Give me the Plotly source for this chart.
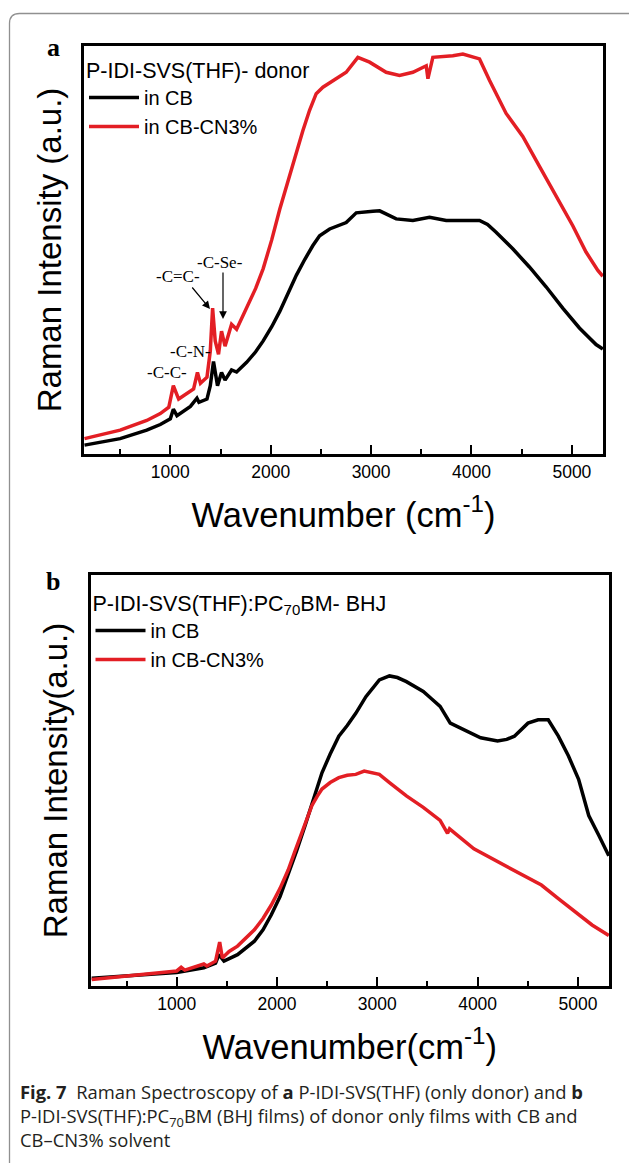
import plotly.graph_objects as go

W, H = 629, 1163

# ---------------- data ----------------
# Panel a: P-IDI-SVS(THF) donor
a_cb_x = [145, 300, 500, 765, 900, 1000, 1030, 1066, 1200, 1265, 1285, 1365, 1398, 1430, 1470,
          1510, 1545, 1610, 1660, 1760, 1850, 1925, 2010, 2090, 2170, 2256, 2340, 2420, 2487,
          2587, 2752, 2852, 3018, 3085, 3250, 3416, 3582, 3748, 4080, 4160, 4245, 4411, 4577,
          4743, 4909, 5075, 5241, 5308]
a_cb_y = [2.2, 2.9, 3.8, 5.9, 7.3, 8.7, 11.1, 9.5, 11.8, 13.8, 12.8, 13.6, 16.9, 22.9, 16.9,
          20.2, 18.3, 20.8, 20.3, 22.7, 25.3, 28.0, 31.5, 35.3, 39.8, 44.3, 48.2, 51.6, 54.0,
          55.7, 57.3, 59.7, 60.1, 60.2, 58.2, 57.8, 58.6, 57.8, 57.8, 56.8, 54.9, 50.8, 46.3,
          41.4, 36.1, 31.2, 27.1, 26.0]

a_cn_x = [145, 300, 500, 765, 900, 985, 1030, 1083, 1232, 1270, 1300, 1365, 1398, 1421, 1447,
          1480, 1510, 1545, 1610, 1660, 1760, 1850, 1925, 2010, 2090, 2170, 2256, 2320, 2387,
          2453, 2520, 2620, 2752, 2868, 2985, 3150, 3283, 3416, 3549, 3566, 3615, 3814, 3914,
          4080, 4179, 4345, 4511, 4677, 4843, 5009, 5141, 5257, 5308]
a_cn_y = [3.8, 4.7, 5.9, 8.3, 10.0, 11.6, 16.9, 13.6, 16.1, 20.2, 17.5, 19.0, 25.5, 36.1, 28.0,
          24.7, 30.4, 26.7, 32.1, 30.9, 36.1, 41.0, 45.9, 53.0, 60.6, 67.5, 74.5, 80.0, 85.1,
          89.2, 90.8, 92.5, 94.5, 98.2, 97.0, 94.5, 93.7, 94.5, 96.1, 92.9, 98.2, 98.6, 99.0,
          97.8, 92.5, 84.3, 78.6, 71.2, 63.9, 56.5, 50.0, 45.5, 44.0]

# Panel b: P-IDI-SVS(THF):PC70BM BHJ
b_cb_x = [152, 495, 1000, 1270, 1387, 1421, 1471, 1606, 1774, 1860, 1943, 2030, 2111, 2195,
          2279, 2365, 2448, 2530, 2616, 2700, 2785, 2886, 3020, 3121, 3200, 3290, 3380, 3458,
          3540, 3626, 3727, 3862, 4030, 4199, 4290, 4367, 4440, 4502, 4603, 4704, 4805, 4906,
          5007, 5108, 5209, 5308]
b_cb_y = [1.9, 2.4, 3.3, 4.5, 5.6, 7.7, 6.1, 7.7, 11.0, 13.8, 17.5, 22.0, 27.2, 33.2,
          39.4, 46.2, 52.4, 57.0, 61.4, 64.0, 67.0, 71.1, 75.2, 76.2, 75.8, 74.8, 73.6, 72.4,
          70.6, 68.7, 64.6, 63.0, 61.0, 60.2, 60.6, 61.4, 63.0, 64.6, 65.4, 65.4, 61.4, 56.5,
          50.8, 41.9, 37.0, 32.0]

b_cn_x = [152, 495, 1000, 1044, 1080, 1270, 1300, 1387, 1428, 1455, 1522, 1606, 1774, 1860,
          1943, 2030, 2111, 2180, 2246, 2300, 2347, 2400, 2448, 2530, 2616, 2700, 2785, 2869,
          3020, 3121, 3290, 3458, 3626, 3700, 3720, 3963, 4300, 4468, 4636, 4805, 4973, 5141,
          5308]
b_cn_y = [1.6, 2.4, 3.7, 4.6, 3.9, 5.4, 4.9, 6.1, 10.8, 6.9, 8.5, 9.8, 13.8, 16.6,
          19.9, 24.0, 28.5, 33.2, 37.8, 41.4, 44.3, 46.6, 48.4, 50.0, 51.2, 51.8, 52.0, 52.8,
          52.0, 50.0, 46.7, 43.9, 40.7, 37.5, 38.6, 33.7, 29.3, 27.2, 24.8, 21.5, 18.3, 15.0,
          12.4]

series_names = ["in CB", "in CB-CN3%"]
series_colors = ["#000000", "#e31e24"]
x_range = [140, 5310]
y_range = [0, 101]

# ---------------- helpers: pixel -> paper ----------------
def px(x):
    return x / W

def py(y):
    return 1 - y / H

fig = go.Figure()

panels = [
    dict(xs=[a_cb_x, a_cn_x], ys=[a_cb_y, a_cn_y], xa="x", ya="y", leg="legend"),
    dict(xs=[b_cb_x, b_cn_x], ys=[b_cb_y, b_cn_y], xa="x2", ya="y2", leg="legend2"),
]
for p in panels:
    for i in range(2):
        fig.add_trace(go.Scatter(
            x=p["xs"][i], y=p["ys"][i], mode="lines", name=series_names[i],
            line=dict(color=series_colors[i], width=3.5),
            xaxis=p["xa"], yaxis=p["ya"], legend=p["leg"], hoverinfo="skip"))

sans = "Arial, Liberation Sans, sans-serif"
serif = "Liberation Serif, Times New Roman, serif"

def xaxis_cfg(domain, anchor, title):
    return dict(domain=domain, anchor=anchor, range=x_range,
                showline=True, linewidth=3, linecolor="black", mirror=True,
                ticks="inside", ticklen=9, tickwidth=2, tickcolor="black",
                tick0=0, dtick=1000,
                minor=dict(ticks="inside", ticklen=5, tickwidth=2, tickcolor="black",
                           tick0=0, dtick=500),
                tickfont=dict(family=sans, size=17.5, color="black"),
                showgrid=False, zeroline=False,
                title=dict(text=title, font=dict(family=sans, size=34.5, color="black"),
                           standoff=22))

def yaxis_cfg(domain, anchor, title):
    return dict(domain=domain, anchor=anchor, range=y_range,
                showline=True, linewidth=3, linecolor="black", mirror=True,
                ticks="", showticklabels=False, showgrid=False, zeroline=False,
                title=dict(text=title, font=dict(family=sans, size=33, color="black"),
                           standoff=10))

legend_common = dict(bgcolor="rgba(0,0,0,0)", borderwidth=0,
                     font=dict(family=sans, size=20, color="black"),
                     xanchor="left", yanchor="top", tracegroupgap=0, itemwidth=50,
                     itemclick=False, itemdoubleclick=False)

fig.update_layout(
    width=W, height=H, autosize=False,
    margin=dict(l=0, r=0, t=0, b=0),
    paper_bgcolor="white", plot_bgcolor="white",
    xaxis=xaxis_cfg([px(84), px(603)], "y", "Wavenumber (cm<sup>-1</sup>)"),
    yaxis=yaxis_cfg([py(454), py(46)], "x", "Raman Intensity (a.u.)"),
    xaxis2=xaxis_cfg([px(90.5), px(609)], "y2", "Wavenumber(cm<sup>-1</sup>)"),
    yaxis2=yaxis_cfg([py(986), py(575)], "x2", "Raman Intensity(a.u.)"),
    legend=dict(legend_common, x=px(84), y=py(50),
                title=dict(text="P-IDI-SVS(THF)- donor",
                           font=dict(family=sans, size=21.5, color="black"))),
    legend2=dict(legend_common, x=px(90.5), y=py(583),
                 title=dict(text="P-IDI-SVS(THF):PC<sub>70</sub>BM- BHJ",
                            font=dict(family=sans, size=21.5, color="black"))),
)

# Outer rounded frame
r = 10
x0, y0, x1, y1 = 9.5, 13.5, 640, 1172
path = (f"M {px(x0)},{py(y0 + r)} Q {px(x0)},{py(y0)} {px(x0 + r)},{py(y0)} "
        f"L {px(x1 - r)},{py(y0)} Q {px(x1)},{py(y0)} {px(x1)},{py(y0 + r)} "
        f"L {px(x1)},{py(y1 - r)} Q {px(x1)},{py(y1)} {px(x1 - r)},{py(y1)} "
        f"L {px(x0 + r)},{py(y1)} Q {px(x0)},{py(y1)} {px(x0)},{py(y1 - r)} Z")
fig.add_shape(type="path", path=path, xref="paper", yref="paper",
              line=dict(color="#909090", width=1.3), layer="below")

def label(text, x, y, font):
    return dict(text=text, x=px(x), y=py(y), xref="paper", yref="paper",
                xanchor="center", yanchor="middle", showarrow=False, font=font)

annots = []
# Panel labels
annots.append(label("<b>a</b>", 53, 48, dict(family=serif, size=26, color="black")))
annots.append(label("<b>b</b>", 53, 581, dict(family=serif, size=26, color="black")))

# Peak assignment labels in panel a
peak_font = dict(family=serif, size=17, color="black")
annots += [
    label("-C-C-", 167, 373, peak_font),
    label("-C-N-", 191, 351, peak_font),
    label("-C=C-", 178, 277, peak_font),
    label("-C-Se-", 220, 262, peak_font),
    dict(text="", x=px(210), y=py(309), ax=-19, ay=-23, xref="paper", yref="paper",
         axref="pixel", ayref="pixel", showarrow=True, arrowhead=2, arrowsize=1.3,
         arrowwidth=1.2, arrowcolor="black"),
    dict(text="", x=px(223), y=py(319), ax=0, ay=-48, xref="paper", yref="paper",
         axref="pixel", ayref="pixel", showarrow=True, arrowhead=2, arrowsize=1.3,
         arrowwidth=1.2, arrowcolor="black"),
]

# Caption (one multi-line text block)
cap_font = dict(family="Open Sans, Noto Sans, sans-serif", size=18.4, color="#231f20")
cap_text = ("<b>Fig. 7</b>  Raman Spectroscopy of <b>a</b> P-IDI-SVS(THF) (only donor) and <b>b</b><br>"
            "P-IDI-SVS(THF):PC<sub>70</sub>BM (BHJ films) of donor only films with CB and<br>"
            "CB–CN3% solvent")
annots.append(dict(text=cap_text, x=px(18), y=py(1077), xref="paper", yref="paper",
                   xanchor="left", yanchor="top", align="left", showarrow=False,
                   font=cap_font))

fig.update_layout(annotations=annots)

fig.write_html("out.html")
